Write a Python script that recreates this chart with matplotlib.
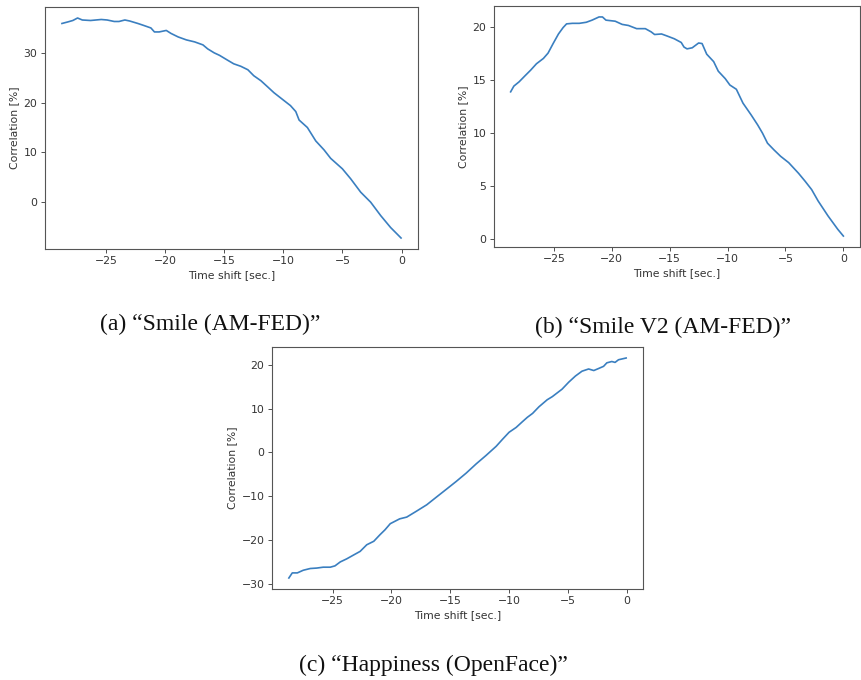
import matplotlib
matplotlib.use("Agg")
import matplotlib.pyplot as plt

# (a) Smile (AM-FED)
xa = [-28.72, -28.24, -27.8, -27.4, -27.0, -26.3, -25.4, -24.9, -24.3, -23.9, -23.4, -23.0,
      -22.3, -21.8, -21.2, -20.9, -20.5, -19.9, -19.5, -18.9, -18.2, -17.5, -16.8, -16.4,
      -15.85, -15.4, -14.7, -14.2, -13.6, -13.0, -12.5, -11.9, -11.3, -10.8, -9.94, -9.4,
      -8.95, -8.67, -7.97, -7.26, -6.56, -6.0, -5.01, -4.31, -3.46, -2.62, -1.77, -0.93, -0.05]
ya = [35.9, 36.2, 36.5, 37.0, 36.6, 36.5, 36.7, 36.6, 36.3, 36.3, 36.6, 36.4,
      35.9, 35.5, 35.0, 34.2, 34.2, 34.5, 33.9, 33.2, 32.6, 32.2, 31.6, 30.8,
      30.0, 29.5, 28.5, 27.8, 27.3, 26.6, 25.4, 24.4, 23.1, 22.0, 20.4, 19.4,
      18.2, 16.5, 15.0, 12.3, 10.5, 8.8, 6.7, 4.7, 2.0, 0.0, -2.7, -5.1, -7.2]

# (b) Smile V2 (AM-FED)
xb = [-28.73, -28.45, -28.0, -27.46, -27.0, -26.5, -25.9, -25.5, -25.06, -24.6, -24.2, -23.9,
      -23.4, -22.8, -22.2, -21.7, -21.1, -20.8, -20.5, -19.7, -19.1, -18.56, -17.85, -17.1,
      -16.6, -16.3, -15.7, -15.2, -14.6, -14.0, -13.76, -13.5, -13.05, -12.5, -12.2, -11.8,
      -11.2, -10.8, -10.2, -9.8, -9.24, -8.67, -7.97, -7.4, -6.98, -6.55, -5.99, -5.42,
      -4.72, -3.87, -3.3, -2.74, -2.18, -1.33, -0.48, 0.0]
yb = [13.86, 14.4, 14.8, 15.4, 15.9, 16.5, 17.0, 17.5, 18.4, 19.3, 19.9, 20.25,
      20.3, 20.3, 20.4, 20.6, 20.9, 20.9, 20.6, 20.5, 20.2, 20.1, 19.8, 19.8,
      19.5, 19.25, 19.3, 19.1, 18.85, 18.5, 18.07, 17.9, 18.0, 18.45, 18.4, 17.4,
      16.7, 15.8, 15.1, 14.5, 14.1, 12.8, 11.7, 10.75, 9.97, 9.03, 8.4, 7.8,
      7.2, 6.2, 5.45, 4.67, 3.6, 2.2, 0.93, 0.3]

# (c) Happiness (OpenFace)
xc = [-28.72, -28.43, -28.0, -27.5, -26.9, -26.35, -25.8, -25.2, -24.8, -24.35, -23.8, -23.2,
      -22.66, -22.1, -21.5, -20.97, -20.55, -20.1, -19.3, -18.7, -17.9, -17.0, -16.2, -15.3,
      -14.5, -13.65, -12.8, -11.97, -11.1, -10.56, -10.0, -9.4, -8.87, -8.45, -8.0, -7.46,
      -6.76, -6.33, -5.5, -4.93, -4.36, -3.8, -3.24, -2.8, -2.4, -1.97, -1.69, -1.27,
      -0.99, -0.7, -0.05]
yc = [-28.56, -27.4, -27.4, -26.8, -26.4, -26.3, -26.1, -26.1, -25.8, -24.9, -24.2, -23.3,
      -22.5, -21.0, -20.2, -18.7, -17.6, -16.2, -15.1, -14.7, -13.4, -11.9, -10.2, -8.3,
      -6.6, -4.7, -2.6, -0.7, 1.4, 3.0, 4.6, 5.7, 7.0, 8.0, 8.9, 10.4,
      12.0, 12.7, 14.4, 16.0, 17.4, 18.5, 19.0, 18.65, 19.1, 19.6, 20.4, 20.7,
      20.5, 21.1, 21.5]

xticks = [-25, -20, -15, -10, -5, 0]
yticks_a = [0, 10, 20, 30]
yticks_b = [0, 5, 10, 15, 20]
yticks_c = [-30, -20, -10, 0, 10, 20]

xlabel = "Time shift [sec.]"
ylabel = "Correlation [%]"
captions = ["(a) \u201cSmile (AM-FED)\u201d", "(b) \u201cSmile V2 (AM-FED)\u201d",
            "(c) \u201cHappiness (OpenFace)\u201d"]

W, H = 861, 680
fig = plt.figure(figsize=(W / 100, H / 100), dpi=100)

def rect(l, t, r, b):
    return [l / W, (H - b) / H, (r - l) / W, (b - t) / H]

line_color = "#3a7fc0"
txt_color = "#333333"
spine_color = "#555555"

def make(r, x, y, yt):
    ax = fig.add_axes(rect(*r))
    ax.plot(x, y, color=line_color, lw=1.2)
    ax.set_xticks(xticks)
    ax.set_yticks(yt)
    ax.tick_params(labelsize=7.8, colors=txt_color, length=2.7, width=0.6,
                   pad=2.7)
    for s in ax.spines.values():
        s.set_color(spine_color)
        s.set_linewidth(0.8)
    ax.set_xlabel(xlabel, fontsize=7.8, color=txt_color, labelpad=2.5)
    ax.set_ylabel(ylabel, fontsize=7.8, color=txt_color, labelpad=3)
    return ax

make((45, 7, 418, 249), xa, ya, yticks_a)
make((494, 6, 860, 247), xb, yb, yticks_b)
make((272, 347, 643, 589), xc, yc, yticks_c)

serif = ["Liberation Serif", "DejaVu Serif"]
fig.text(210 / W, 1 - 324 / H, captions[0], family=serif, fontsize=17,
         ha="center", va="center", color="#111111")
fig.text(663 / W, 1 - 327 / H, captions[1], family=serif, fontsize=17,
         ha="center", va="center", color="#111111")
fig.text(433 / W, 1 - 665 / H, captions[2], family=serif, fontsize=17,
         ha="center", va="center", color="#111111")

fig.savefig("out.png", dpi=100)
